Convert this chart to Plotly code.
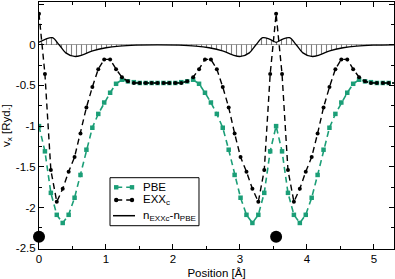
import plotly.graph_objects as go

# grid positions (Å)
positions = [0.0, 0.0885, 0.177, 0.2655, 0.354, 0.4425, 0.531, 0.6195, 0.708, 0.7965,
             0.885, 0.9735, 1.062, 1.1505, 1.239, 1.3275, 1.416, 1.5045, 1.593, 1.6815,
             1.77, 1.8585, 1.947, 2.0355, 2.124, 2.2125, 2.301, 2.3895, 2.478, 2.5665,
             2.655, 2.7435, 2.832, 2.9205, 3.009, 3.0975, 3.186, 3.2745, 3.363, 3.4515,
             3.54, 3.6285, 3.717, 3.8055, 3.894, 3.9825, 4.071, 4.1595, 4.248, 4.3365,
             4.425, 4.5135, 4.602, 4.6905, 4.779, 4.8675, 4.956, 5.0445, 5.133, 5.2215, 5.31]

pbe = [-1.00, -1.31, -1.82, -2.09, -2.19, -2.09, -1.88, -1.60, -1.29, -1.02,
       -0.85, -0.71, -0.59, -0.48, -0.43, -0.45, -0.46, -0.47, -0.47, -0.47,
       -0.47, -0.47, -0.47, -0.47, -0.46, -0.45, -0.43, -0.48, -0.59, -0.71,
       -0.85, -1.02, -1.29, -1.60, -1.88, -2.09, -2.19, -2.09, -1.82, -1.31,
       -1.00, -1.31, -1.82, -2.09, -2.19, -2.09, -1.88, -1.60, -1.29, -1.02,
       -0.85, -0.71, -0.59, -0.48, -0.43, -0.45, -0.46, -0.47, -0.47, -0.47, -0.47]

exxc = [0.38, -0.36, -1.54, -1.93, -1.77, -1.56, -1.38, -1.09, -0.77, -0.52,
        -0.30, -0.18, -0.18, -0.30, -0.40, -0.45, -0.47, -0.47, -0.47, -0.47,
        -0.47, -0.47, -0.47, -0.47, -0.47, -0.45, -0.40, -0.30, -0.18, -0.18,
        -0.30, -0.52, -0.77, -1.09, -1.38, -1.56, -1.77, -1.93, -1.54, -0.36,
        0.38, -0.36, -1.54, -1.93, -1.77, -1.56, -1.38, -1.09, -0.77, -0.52,
        -0.30, -0.18, -0.18, -0.30, -0.40, -0.45, -0.47, -0.47, -0.47, -0.47, -0.47]

dens_x = [0, 0.1, 0.2, 0.3, 0.4, 0.53, 0.65, 0.8, 1.0, 1.2, 1.45,
          1.77, 2.09, 2.34, 2.54, 2.74, 2.89, 3.01, 3.14, 3.24, 3.34, 3.44,
          3.54, 3.64, 3.74, 3.84, 3.94, 4.07, 4.19, 4.34, 4.54, 4.74, 4.99, 5.3]
dens_y = [0.03, 0.07, 0.086, 0.0, -0.10, -0.144, -0.125, -0.075, -0.037, -0.017, -0.006,
          -0.002, -0.006, -0.017, -0.037, -0.075, -0.125, -0.144, -0.10, 0.0, 0.086, 0.07,
          0.03, 0.07, 0.086, 0.0, -0.10, -0.144, -0.125, -0.075, -0.037, -0.017, -0.006, -0.002]

atom_x = [0.0, 3.54]
atom_y = [-2.36, -2.36]

ytick_vals = [0.5, 0, -0.5, -1, -1.5, -2, -2.5]
ytick_text = ["0.5", "0", "-0.5", "-1", "-1.5", "-2", "-2.5"]
xtick_vals = [0, 1, 2, 3, 4, 5]
xtick_text = ["0", "1", "2", "3", "4", "5"]

legend_labels = ["PBE", "EXX<sub>c</sub>", "n<sub>EXXc</sub>-n<sub>PBE</sub>"]

GREEN = "#1b9e77"
FONT = "Liberation Sans, Arial, sans-serif"

fig = go.Figure()

# density difference with vertical hatching
fig.add_trace(go.Scatter(
    x=dens_x, y=dens_y, mode="lines", line=dict(color="black", width=1.3, shape="spline"),
    fill="tozeroy", fillcolor="rgba(0,0,0,0)",
    fillpattern=dict(shape="|", fgcolor="black", bgcolor="rgba(0,0,0,0)", size=5,
                     solidity=0.22, fillmode="overlay"),
    showlegend=False, hoverinfo="skip", name=legend_labels[2]))

fig.add_trace(go.Scatter(
    x=positions, y=pbe, mode="lines+markers", name=legend_labels[0], showlegend=False,
    line=dict(color=GREEN, width=1.6, dash="6px,4px"),
    marker=dict(symbol="square", size=4.5, color=GREEN)))

fig.add_trace(go.Scatter(
    x=positions, y=exxc, mode="lines+markers", name=legend_labels[1], showlegend=False,
    line=dict(color="black", width=1.4, dash="6px,4px"),
    marker=dict(symbol="circle", size=4, color="black")))

fig.add_trace(go.Scatter(
    x=atom_x, y=atom_y, mode="markers", showlegend=False, cliponaxis=False,
    marker=dict(symbol="circle", size=12, color="black")))

axis_common = dict(
    showline=True, linecolor="black", linewidth=1, mirror="allticks",
    ticks="inside", ticklen=5, tickcolor="black", tickwidth=1,
    showgrid=False, tickfont=dict(family=FONT, size=11.5, color="black"),
)

fig.update_xaxes(
    range=[0, 5.3], tickvals=xtick_vals, ticktext=xtick_text,
    minor=dict(ticks="inside", ticklen=3, dtick=0.5, tick0=0, tickcolor="black", showgrid=False),
    title=dict(text="Position [Å]", font=dict(family=FONT, size=11.5, color="black"), standoff=6),
    zeroline=False, ticklabelstandoff=-1, **axis_common)

fig.update_yaxes(
    range=[-2.51, 0.525], tickvals=ytick_vals, ticktext=ytick_text,
    minor=dict(ticks="inside", ticklen=3, dtick=0.25, tick0=0, tickcolor="black", showgrid=False),
    title=dict(text="v<sub>x</sub> [Ryd.]", font=dict(family=FONT, size=11.5, color="black"), standoff=4),
    zeroline=True, zerolinecolor="#a0a0a0", zerolinewidth=1, **axis_common)

# ---- manual legend (paper coordinates) ----
box = dict(x0=0.2, x1=0.4507, y0=0.0943, y1=0.2887)
rows_y = [0.2498, 0.1984, 0.1348]
samp_x0, samp_x1 = 0.2085, 0.2704
mark_x = [0.2175, 0.2620]
text_x = 0.2873

shapes = [dict(type="rect", xref="paper", yref="paper", line=dict(color="black", width=1),
               fillcolor="white", layer="above", **box)]
styles = [(GREEN, "6px,4px", "square"), ("black", "6px,4px", "circle"), ("black", "solid", None)]
for ry, (col, dash, sym) in zip(rows_y, styles):
    shapes.append(dict(type="line", xref="paper", yref="paper", x0=samp_x0 if sym is None else mark_x[0],
                       x1=samp_x1 if sym is None else mark_x[1], y0=ry, y1=ry, layer="above",
                       line=dict(color=col, width=1.5, dash=dash)))
    if sym is not None:
        for mx in mark_x:
            shapes.append(dict(type="rect" if sym == "square" else "circle",
                               xref="paper", yref="paper", xsizemode="pixel", ysizemode="pixel",
                               xanchor=mx, yanchor=ry, x0=-2.2, x1=2.2, y0=-2.2, y1=2.2,
                               fillcolor=col, line=dict(color=col, width=0), layer="above"))

annotations = [dict(xref="paper", yref="paper", x=text_x, y=ry, text=lab, showarrow=False,
                    xanchor="left", yanchor="middle",
                    font=dict(family=FONT, size=11.5, color="black"))
               for ry, lab in zip(rows_y, legend_labels)]

fig.update_layout(
    width=395, height=279,
    margin=dict(l=39, r=1, t=2, b=30, autoexpand=False),
    plot_bgcolor="white", paper_bgcolor="white",
    font=dict(family=FONT, size=11.5, color="black"),
    showlegend=False, shapes=shapes, annotations=annotations,
)

fig.write_html("out.html", config={"displayModeBar": False},
               post_script="document.body.style.margin='0';document.body.style.padding='0';")
